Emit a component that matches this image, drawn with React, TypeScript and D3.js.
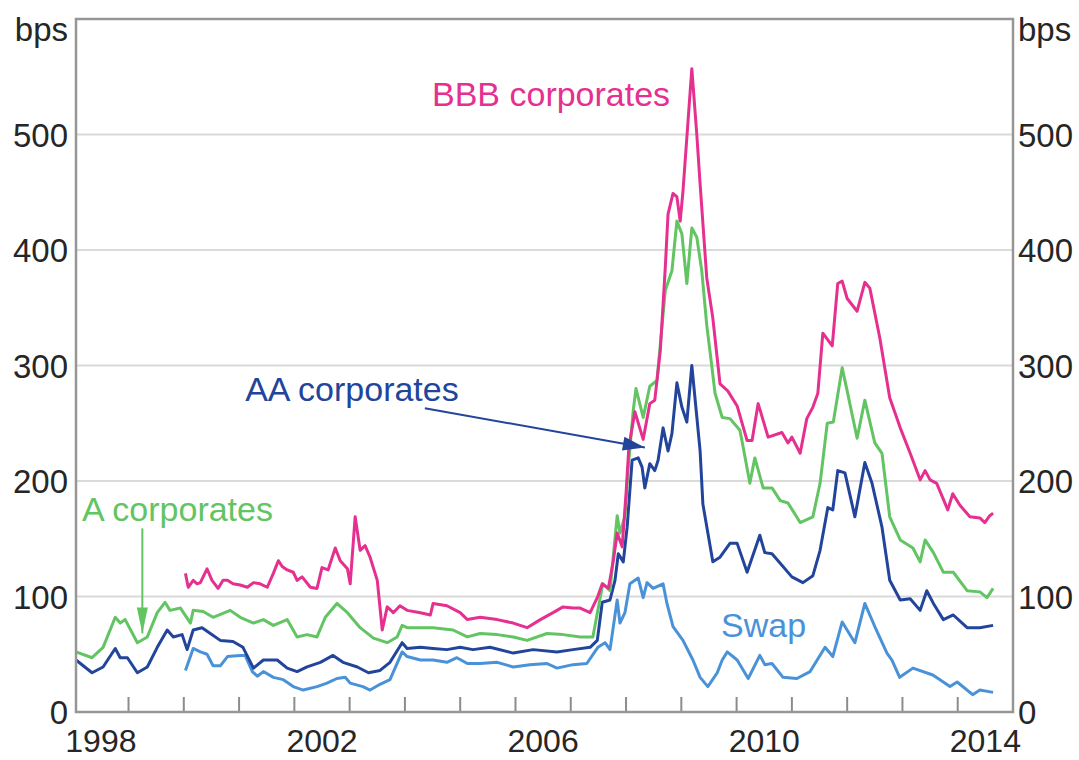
import * as d3 from 'd3';

// Spreads over government bonds, bps
const bbb: [number, number][] = [
  [2000.03, 120], [2000.08, 108], [2000.17, 114], [2000.24, 111], [2000.30, 112], [2000.42, 124],
  [2000.51, 114], [2000.62, 107], [2000.71, 114], [2000.79, 114], [2000.89, 111], [2001.02, 110],
  [2001.15, 108], [2001.26, 112], [2001.38, 111], [2001.51, 108], [2001.62, 120], [2001.71, 131],
  [2001.78, 126], [2001.87, 123], [2001.98, 121], [2002.05, 114], [2002.14, 117], [2002.29, 108],
  [2002.41, 107], [2002.50, 125], [2002.61, 123], [2002.74, 142], [2002.83, 131], [2002.96, 124],
  [2003.01, 111], [2003.10, 169], [2003.19, 140], [2003.28, 144], [2003.37, 134], [2003.50, 114],
  [2003.59, 71], [2003.68, 91], [2003.79, 86], [2003.91, 92], [2004.04, 88], [2004.28, 86],
  [2004.46, 84], [2004.51, 94], [2004.76, 92], [2005.00, 86], [2005.13, 80], [2005.36, 82],
  [2005.67, 80], [2005.96, 77], [2006.21, 73], [2006.45, 80], [2006.68, 86], [2006.86, 91],
  [2007.04, 90], [2007.17, 90], [2007.35, 86], [2007.48, 99], [2007.57, 111], [2007.68, 107],
  [2007.77, 131], [2007.84, 155], [2007.93, 143], [2008.00, 189], [2008.05, 229], [2008.16, 260],
  [2008.31, 236], [2008.43, 267], [2008.52, 270], [2008.62, 313], [2008.71, 385], [2008.76, 431],
  [2008.85, 449], [2008.92, 446], [2008.98, 425], [2009.03, 451], [2009.19, 557], [2009.28, 500],
  [2009.34, 457], [2009.46, 376], [2009.57, 341], [2009.70, 284], [2009.84, 278], [2010.01, 265],
  [2010.19, 235], [2010.28, 235], [2010.39, 267], [2010.57, 238], [2010.82, 242], [2010.93, 233],
  [2011.00, 238], [2011.15, 224], [2011.27, 254], [2011.38, 264], [2011.47, 276], [2011.56, 328],
  [2011.73, 317], [2011.83, 371], [2011.91, 373], [2012.00, 358], [2012.18, 347], [2012.32, 372],
  [2012.41, 367], [2012.59, 324], [2012.77, 272], [2012.96, 246], [2013.14, 224], [2013.32, 201],
  [2013.41, 209], [2013.50, 201], [2013.62, 198], [2013.82, 175], [2013.91, 189], [2014.04, 179],
  [2014.22, 169], [2014.40, 168], [2014.49, 164], [2014.58, 170], [2014.64, 172],
];

const aCorp: [number, number][] = [
  [1998.05, 52], [1998.34, 47], [1998.54, 56], [1998.76, 82], [1998.85, 77], [1998.94, 80],
  [1999.16, 60], [1999.34, 65], [1999.52, 86], [1999.66, 95], [1999.75, 88], [1999.94, 90],
  [2000.12, 77], [2000.17, 88], [2000.35, 87], [2000.53, 82], [2000.84, 88], [2001.02, 82],
  [2001.26, 77], [2001.44, 80], [2001.62, 75], [2001.87, 80], [2002.05, 65], [2002.23, 67],
  [2002.41, 65], [2002.56, 82], [2002.77, 94], [2002.96, 86], [2003.19, 73], [2003.43, 64],
  [2003.68, 60], [2003.86, 65], [2003.95, 75], [2004.04, 73], [2004.28, 73], [2004.51, 73],
  [2004.87, 71], [2005.13, 65], [2005.36, 68], [2005.67, 67], [2005.96, 65], [2006.21, 62],
  [2006.57, 68], [2006.86, 67], [2007.17, 65], [2007.40, 65], [2007.49, 88], [2007.58, 111],
  [2007.71, 105], [2007.84, 170], [2007.89, 155], [2007.98, 169], [2008.04, 212], [2008.13, 261],
  [2008.18, 280], [2008.31, 255], [2008.43, 282], [2008.56, 287], [2008.71, 365], [2008.83, 382],
  [2008.92, 425], [2009.01, 414], [2009.10, 371], [2009.19, 419], [2009.28, 411], [2009.37, 382],
  [2009.46, 335], [2009.55, 300], [2009.61, 276], [2009.74, 255], [2009.88, 254], [2010.06, 244],
  [2010.12, 229], [2010.24, 198], [2010.33, 220], [2010.48, 194], [2010.64, 194], [2010.79, 183],
  [2010.93, 181], [2011.15, 164], [2011.38, 169], [2011.51, 198], [2011.64, 250], [2011.75, 251],
  [2011.91, 298], [2012.00, 278], [2012.18, 237], [2012.32, 270], [2012.50, 233], [2012.63, 224],
  [2012.77, 169], [2012.96, 149], [2013.19, 142], [2013.32, 130], [2013.41, 149], [2013.56, 138],
  [2013.74, 121], [2013.92, 121], [2014.17, 105], [2014.40, 104], [2014.53, 99], [2014.64, 107],
];

const aaCorp: [number, number][] = [
  [1998.05, 45], [1998.34, 34], [1998.54, 39], [1998.76, 55], [1998.85, 47], [1998.98, 47],
  [1999.16, 34], [1999.34, 39], [1999.52, 56], [1999.70, 71], [1999.81, 65], [1999.97, 67],
  [2000.06, 54], [2000.17, 71], [2000.33, 73], [2000.48, 68], [2000.66, 62], [2000.89, 61],
  [2001.07, 56], [2001.26, 38], [2001.44, 45], [2001.69, 45], [2001.87, 38], [2002.05, 35],
  [2002.23, 39], [2002.47, 43], [2002.70, 49], [2002.88, 43], [2003.14, 39], [2003.34, 34],
  [2003.55, 36], [2003.73, 43], [2003.95, 60], [2004.04, 55], [2004.28, 56], [2004.51, 55],
  [2004.76, 54], [2005.00, 56], [2005.23, 54], [2005.54, 56], [2005.96, 51], [2006.32, 54],
  [2006.75, 52], [2007.04, 54], [2007.35, 56], [2007.48, 62], [2007.57, 95], [2007.71, 97],
  [2007.80, 114], [2007.86, 137], [2007.95, 130], [2008.02, 160], [2008.11, 218], [2008.22, 220],
  [2008.29, 212], [2008.34, 194], [2008.43, 215], [2008.52, 209], [2008.58, 218], [2008.67, 246],
  [2008.76, 226], [2008.83, 241], [2008.92, 285], [2009.01, 264], [2009.10, 251], [2009.19, 300],
  [2009.34, 226], [2009.39, 180], [2009.57, 130], [2009.70, 134], [2009.88, 146], [2010.01, 146],
  [2010.19, 121], [2010.42, 153], [2010.51, 138], [2010.64, 137], [2010.82, 127], [2011.00, 117],
  [2011.20, 112], [2011.38, 118], [2011.51, 140], [2011.65, 177], [2011.74, 175], [2011.83, 209],
  [2011.96, 207], [2012.14, 169], [2012.32, 216], [2012.45, 198], [2012.63, 160], [2012.77, 114],
  [2012.96, 97], [2013.14, 98], [2013.32, 88], [2013.44, 105], [2013.56, 94], [2013.74, 80],
  [2013.92, 84], [2014.17, 73], [2014.40, 73], [2014.64, 75],
];

const swap: [number, number][] = [
  [2000.03, 36], [2000.17, 55], [2000.30, 52], [2000.42, 50], [2000.53, 40], [2000.66, 40],
  [2000.79, 48], [2001.02, 49], [2001.11, 49], [2001.24, 35], [2001.33, 31], [2001.44, 35],
  [2001.62, 30], [2001.80, 28], [2001.98, 22], [2002.16, 19], [2002.41, 22], [2002.59, 25],
  [2002.77, 29], [2002.92, 30], [2003.01, 25], [2003.24, 22], [2003.37, 19], [2003.55, 24],
  [2003.73, 28], [2003.95, 52], [2004.04, 48], [2004.28, 45], [2004.51, 45], [2004.76, 43],
  [2004.94, 47], [2005.13, 42], [2005.36, 42], [2005.67, 43], [2005.96, 39], [2006.26, 41],
  [2006.57, 42], [2006.75, 38], [2007.04, 41], [2007.29, 42], [2007.49, 56], [2007.62, 60],
  [2007.71, 54], [2007.84, 97], [2007.89, 77], [2007.98, 86], [2008.07, 111], [2008.22, 116],
  [2008.31, 99], [2008.38, 112], [2008.49, 107], [2008.67, 111], [2008.74, 94], [2008.85, 74],
  [2009.03, 62], [2009.21, 45], [2009.34, 30], [2009.48, 22], [2009.65, 34], [2009.74, 45],
  [2009.83, 52], [2010.01, 45], [2010.21, 29], [2010.42, 49], [2010.51, 41], [2010.64, 42],
  [2010.84, 30], [2011.09, 29], [2011.33, 35], [2011.60, 56], [2011.74, 48], [2011.91, 78],
  [2012.14, 60], [2012.32, 94], [2012.50, 74], [2012.72, 51], [2012.81, 45], [2012.95, 30],
  [2013.19, 38], [2013.55, 32], [2013.86, 22], [2013.99, 26], [2014.27, 15], [2014.40, 19],
  [2014.64, 17],
];

const yTicks = [0, 100, 200, 300, 400, 500];
const yearTicks = d3.range(1999, 2015);
const yearLabels = [1998, 2002, 2006, 2010, 2014];

const C_BBB = '#e5308f';
const C_A = '#62c462';
const C_AA = '#22459b';
const C_SWAP = '#4a92d8';

export default function App() {
  const W = 1079, H = 760;
  const left = 76, right = 1013, top = 19, bottom = 712;
  const x = d3.scaleLinear().domain([1998.05, 2015]).range([left, right]);
  const y = d3.scaleLinear().domain([0, 600]).range([bottom, top]);
  const line = d3.line<[number, number]>().x(d => x(d[0])).y(d => y(d[1])).curve(d3.curveLinear);

  const font = '"Liberation Sans", Arial, Helvetica, sans-serif';
  const txt = '#262626';

  const arrowHead = (x1: number, y1: number, x2: number, y2: number, len: number, half: number) => {
    const a = Math.atan2(y2 - y1, x2 - x1);
    const bx = x2 - len * Math.cos(a), by = y2 - len * Math.sin(a);
    const nx = -Math.sin(a) * half, ny = Math.cos(a) * half;
    return `M${x2},${y2}L${bx + nx},${by + ny}L${bx - nx},${by - ny}Z`;
  };

  // annotation arrows in data space
  const aaFrom = [x(2004.36), y(263)], aaTo = [x(2008.34), y(229)];
  const aFrom = [x(1999.25), y(159)], aTo = [x(1999.25), y(68)];

  const series = [
    { data: swap, color: C_SWAP },
    { data: aaCorp, color: C_AA },
    { data: aCorp, color: C_A },
    { data: bbb, color: C_BBB },
  ];

  return (
    <svg width={W} height={H} style={{ position: 'absolute', left: 0, top: 0, background: '#fff' }}
      fontFamily={font}>
      {/* gridlines */}
      {yTicks.filter(t => t > 0).map(t => (
        <line key={t} x1={left} x2={right} y1={y(t)} y2={y(t)} stroke="#dadada" strokeWidth={2} />
      ))}
      {/* year ticks */}
      {yearTicks.map(t => (
        <line key={t} x1={x(t)} x2={x(t)} y1={bottom} y2={bottom - 15} stroke="#8c8c8c" strokeWidth={2} />
      ))}
      {series.map((s, i) => (
        <path key={i} d={line(s.data) || ''} fill="none" stroke={s.color} strokeWidth={3}
          strokeLinejoin="round" />
      ))}
      {/* frame */}
      <rect x={left} y={top} width={right - left} height={bottom - top} fill="none" stroke="#969696" strokeWidth={2.5} />
      {/* y labels */}
      {yTicks.map(t => (
        <g key={t}>
          <text x={68} y={y(t) + 12} textAnchor="end" fontSize={33} fill={txt}>{t}</text>
          <text x={1018} y={y(t) + 12} textAnchor="start" fontSize={33} fill={txt}>{t}</text>
        </g>
      ))}
      <text x={68} y={41} textAnchor="end" fontSize={33} fill={txt}>bps</text>
      <text x={1018} y={41} textAnchor="start" fontSize={33} fill={txt}>bps</text>
      {/* x labels */}
      {yearLabels.map(t => (
        <text key={t} x={x(t + 0.5)} y={752} textAnchor="middle" fontSize={32} fill={txt}>{t}</text>
      ))}
      {/* annotations */}
      <text x={x(2004.49)} y={y(525)} fontSize={34} fill={C_BBB}>BBB corporates</text>
      <text x={x(2001.11)} y={y(269)} fontSize={34} fill={C_AA}>AA corporates</text>
      <text x={x(1998.16)} y={y(165)} fontSize={34} fill={C_A}>A corporates</text>
      <text x={x(2009.72)} y={y(65)} fontSize={34} fill={C_SWAP}>Swap</text>
      <line x1={aaFrom[0]} y1={aaFrom[1]} x2={aaTo[0]} y2={aaTo[1]} stroke={C_AA} strokeWidth={2} />
      <path d={arrowHead(aaFrom[0], aaFrom[1], aaTo[0], aaTo[1], 22, 7)} fill={C_AA} />
      <line x1={aFrom[0]} y1={aFrom[1]} x2={aTo[0]} y2={aTo[1]} stroke={C_A} strokeWidth={2} />
      <path d={arrowHead(aFrom[0], aFrom[1], aTo[0], aTo[1], 26, 5.5)} fill={C_A} />
    </svg>
  );
}
